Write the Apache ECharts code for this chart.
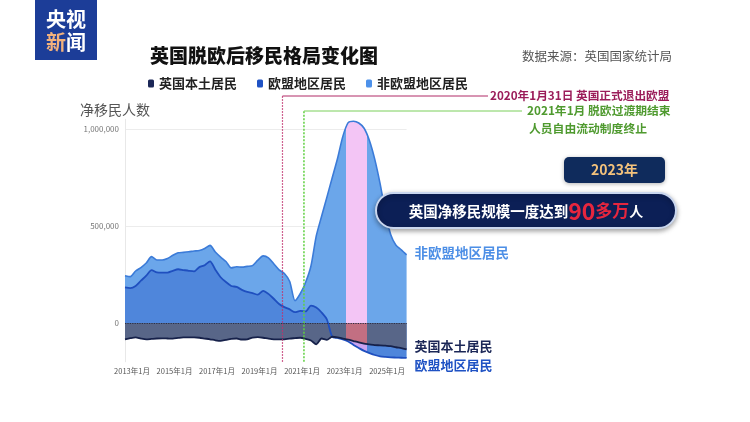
<!DOCTYPE html>
<html>
<head>
<meta charset="utf-8">
<script src="https://cdn.jsdelivr.net/npm/echarts@6/dist/echarts.min.js"></script>
<style>
html,body{margin:0;padding:0;background:#fff}
#main{width:750px;height:422px}
</style>
</head>
<body>
<div id="main"></div>
<script>
// 时间（年，季度步长）
var times = [2012.67, 2012.92,
    2013.17, 2013.42, 2013.67, 2013.92, 2014.17, 2014.42, 2014.67, 2014.92,
    2015.17, 2015.42, 2015.67, 2015.92, 2016.17, 2016.42, 2016.67, 2016.92,
    2017.17, 2017.42, 2017.67, 2017.92, 2018.17, 2018.42, 2018.67, 2018.92,
    2019.17, 2019.42, 2019.67, 2019.92, 2020.17, 2020.42, 2020.67, 2020.92,
    2021.17, 2021.42, 2021.67, 2021.92, 2022.17, 2022.42, 2022.67, 2022.92,
    2023.17, 2023.42, 2023.67, 2023.92, 2024.17, 2024.42, 2024.67, 2024.92,
    2025.17, 2025.42, 2025.67, 2025.92];
// 净移民（千人）
var nonEU = [244, 239, 268, 286, 309, 342, 325, 325, 333, 349,
    362, 364, 367, 371, 374, 384, 400, 366, 340, 317,
    284, 290, 288, 292, 296, 324, 346, 336, 305, 274,
    255, 214, 115, 152, 210, 294, 449, 550, 649, 749,
    848, 962, 1033, 1040, 1031, 1004, 941, 845, 720, 574,
    456, 401, 377, 351];
var eu = [184, 180, 191, 218, 244, 273, 261, 260, 260, 269,
    277, 273, 269, 266, 288, 298, 318, 275, 236, 211,
    191, 186, 171, 160, 154, 146, 166, 150, 125, 98,
    82, 70, 56, 62, 60, 90, 80, 54, 18, -71,
    -77, -84, -95, -113, -129, -144, -155, -165, -172, -175,
    -177, -178, -179, -180];
var british = [-84, -78, -74, -80, -84, -82, -80, -79, -80, -81,
    -77, -74, -74, -74, -76, -80, -84, -89, -92, -87,
    -82, -80, -85, -84, -75, -73, -76, -81, -84, -84,
    -84, -80, -78, -76, -82, -90, -110, -80, -87, -71,
    -74, -80, -86, -93, -100, -106, -110, -114, -115, -117,
    -119, -125, -130, -136];
var xLabelYears = [2013, 2015, 2017, 2019, 2021, 2023, 2025];
var yTicks = [0, 500000, 1000000];
var yMin = -200000, yMax = 1050000;
// 高亮：2023年
var bandStart = 2023.07, bandEnd = 2024.06;
// 事件
var brexitDate = 2020.08, transitionEnd = 2021.09;

var FONT = '"Noto Sans CJK SC", "Noto Sans", sans-serif';

function pairs(vals) {
    return times.map(function (t, i) { return [t, vals[i] * 1000]; });
}

function band(idx, inColor, outColor) {
    return {
        show: false, type: 'piecewise', seriesIndex: idx, dimension: 0,
        pieces: [{gte: bandStart, lt: bandEnd, color: inColor}],
        outOfRange: {color: outColor}
    };
}

var chart = echarts.init(document.getElementById('main'));
var option = {
    animation: false,
    backgroundColor: '#fff',
    textStyle: {fontFamily: FONT},
    title: [
        {text: '英国脱欧后移民格局变化图', left: 145, top: 41,
            textStyle: {fontSize: 19, fontWeight: 900, color: '#111', fontFamily: FONT}},
        {text: '数据来源：英国国家统计局', left: 517, top: 45,
            textStyle: {fontSize: 12.5, fontWeight: 'normal', color: '#555', fontFamily: FONT}}
    ],
    legend: {
        left: 143, top: 72, icon: 'roundRect', itemWidth: 6, itemHeight: 8, itemGap: 20,
        selectedMode: false,
        textStyle: {fontSize: 13, fontWeight: 'bold', color: '#222', fontFamily: FONT},
        data: [
            {name: '英国本土居民', itemStyle: {color: '#1b2757'}},
            {name: '欧盟地区居民', itemStyle: {color: '#1f52c4'}},
            {name: '非欧盟地区居民', itemStyle: {color: '#4d91ea'}}
        ]
    },
    grid: {left: 125, top: 119.3, width: 281.6, height: 242.5},
    xAxis: {
        type: 'value', min: times[0], max: times[times.length - 1],
        axisLine: {show: false, onZero: false},
        axisTick: {show: false},
        splitLine: {show: false},
        axisLabel: {
            customValues: xLabelYears, fontSize: 7.5, color: '#555', margin: 6,
            formatter: function (v) { return v + '年1月'; }
        }
    },
    yAxis: {
        type: 'value', min: yMin, max: yMax,
        axisLine: {show: true, lineStyle: {color: '#e8e8e8'}},
        axisTick: {show: false, customValues: yTicks},
        axisLabel: {
            customValues: yTicks, fontSize: 8, color: '#777', margin: 6,
            formatter: function (v) { return v.toLocaleString('en-US'); }
        },
        splitLine: {show: true, lineStyle: {color: '#ececec'}}
    },
    visualMap: [
        band(0, '#f3c5f5', '#6ba6ea'),
        band(1, '#c9a3ef', '#4f86db'),
        band(2, '#c26f82', '#586688')
    ],
    series: [
        {
            name: '非欧盟地区居民', type: 'line', data: pairs(nonEU), symbol: 'none', smooth: 0.25,
            itemStyle: {color: '#4d91ea'},
            lineStyle: {color: '#3b7bd8', width: 1.6},
            areaStyle: {opacity: 1},
            endLabel: {show: true, formatter: '非欧盟地区居民', color: '#4d8fe6', fontSize: 13.5,
                fontWeight: 'bold', fontFamily: FONT, offset: [0, -2]}
        },
        {
            name: '欧盟地区居民', type: 'line', data: pairs(eu), symbol: 'none', smooth: 0.25,
            itemStyle: {color: '#1f52c4'},
            lineStyle: {color: '#1f4fbf', width: 1.8},
            areaStyle: {opacity: 1},
            endLabel: {show: true, formatter: '欧盟地区居民', color: '#1f52c4', fontSize: 13,
                fontWeight: 'bold', fontFamily: FONT, offset: [0, 7]}
        },
        {
            name: '英国本土居民', type: 'line', data: pairs(british), symbol: 'none', smooth: 0.25,
            itemStyle: {color: '#1b2757'},
            lineStyle: {color: '#16214a', width: 1.8},
            areaStyle: {opacity: 1},
            endLabel: {show: true, formatter: '英国本土居民', color: '#1b2757', fontSize: 13,
                fontWeight: 'bold', fontFamily: FONT, offset: [0, -3]},
            markLine: {
                silent: true, symbol: 'none', label: {show: false},
                lineStyle: {color: '#2a2f45', type: 'dotted', width: 1.2},
                data: [{yAxis: 0}]
            }
        }
    ]
};
chart.setOption(option);

// 标注线按坐标轴换算位置
var xBrexit = chart.convertToPixel({xAxisIndex: 0}, brexitDate);
var xTrans = chart.convertToPixel({xAxisIndex: 0}, transitionEnd);
var yBottom = chart.convertToPixel({yAxisIndex: 0}, yMin);

chart.setOption({
    graphic: [
        // 央视新闻 logo
        {type: 'rect', shape: {x: 35, y: 0, width: 62, height: 60}, style: {fill: '#1c3d98'}},
        {type: 'text', x: 66, y: 19, style: {text: '央视', fill: '#fff', font: 'bold 20px ' + FONT,
            textAlign: 'center', textVerticalAlign: 'middle'}},
        {type: 'text', x: 56, y: 42, style: {text: '新', fill: '#f3b27c', font: 'bold 20px ' + FONT,
            textAlign: 'center', textVerticalAlign: 'middle'}},
        {type: 'text', x: 76, y: 42, style: {text: '闻', fill: '#fff', font: 'bold 20px ' + FONT,
            textAlign: 'center', textVerticalAlign: 'middle'}},
        // y 轴名
        {type: 'text', x: 80, y: 110, style: {text: '净移民人数', fill: '#555', font: '14px ' + FONT,
            textVerticalAlign: 'middle'}},
        // 脱欧日
        {type: 'polyline', z: 10, shape: {points: [[xBrexit, yBottom], [xBrexit, 96]]},
            style: {stroke: '#c0306e', lineWidth: 1.2, lineDash: [1.5, 1.5]}},
        {type: 'polyline', z: 10, shape: {points: [[xBrexit, 96], [488, 96]]},
            style: {stroke: '#b02a66', lineWidth: 1}},
        {type: 'text', x: 490, y: 96, style: {text: '2020年1月31日 英国正式退出欧盟', fill: '#9b1d5a',
            font: 'bold 11.7px ' + FONT, textVerticalAlign: 'middle'}},
        // 过渡期结束
        {type: 'polyline', z: 10, shape: {points: [[xTrans, yBottom], [xTrans, 111]]},
            style: {stroke: '#5fd040', lineWidth: 1.5, lineDash: [2, 1.5]}},
        {type: 'polyline', z: 10, shape: {points: [[xTrans, 111], [522, 111]]},
            style: {stroke: '#7bcf5a', lineWidth: 1}},
        {type: 'text', x: 527, y: 111, style: {text: '2021年1月 脱欧过渡期结束', fill: '#4f9a2f',
            font: 'bold 11.8px ' + FONT, textVerticalAlign: 'middle'}},
        {type: 'text', x: 529, y: 129, style: {text: '人员自由流动制度终止', fill: '#4f9a2f',
            font: 'bold 11.8px ' + FONT, textVerticalAlign: 'middle'}},
        // 2023年
        {type: 'rect', z: 20, shape: {x: 564, y: 157, width: 101, height: 26, r: 5},
            style: {fill: '#0f2b5c', shadowBlur: 4, shadowColor: 'rgba(0,0,0,0.3)', shadowOffsetY: 1}},
        {type: 'text', z: 21, x: 614.5, y: 170, style: {text: '2023年', fill: '#f3c27c',
            font: 'bold 14px ' + FONT, textAlign: 'center', textVerticalAlign: 'middle'}},
        {type: 'rect', z: 20, shape: {x: 376, y: 193, width: 300, height: 35, r: 17.5},
            style: {fill: '#0c1f56', stroke: '#c9d6ee', lineWidth: 2,
                shadowBlur: 5, shadowColor: 'rgba(0,0,0,0.35)', shadowOffsetY: 2}},
        {type: 'text', z: 21, x: 526, y: 211, style: {
            text: '{a|英国净移民规模一度达到}{b|90}{c|多万}{d|人}',
            textAlign: 'center', textVerticalAlign: 'middle',
            rich: {
                a: {fill: '#fff', fontSize: 14.5, fontWeight: 'bold', fontFamily: FONT},
                b: {fill: '#e6263e', fontSize: 23, fontWeight: 'bold', fontFamily: FONT},
                c: {fill: '#e6263e', fontSize: 17, fontWeight: 'bold', fontFamily: FONT},
                d: {fill: '#fff', fontSize: 14, fontWeight: 'bold', fontFamily: FONT}
            }
        }}
    ]
});
</script>
</body>
</html>
